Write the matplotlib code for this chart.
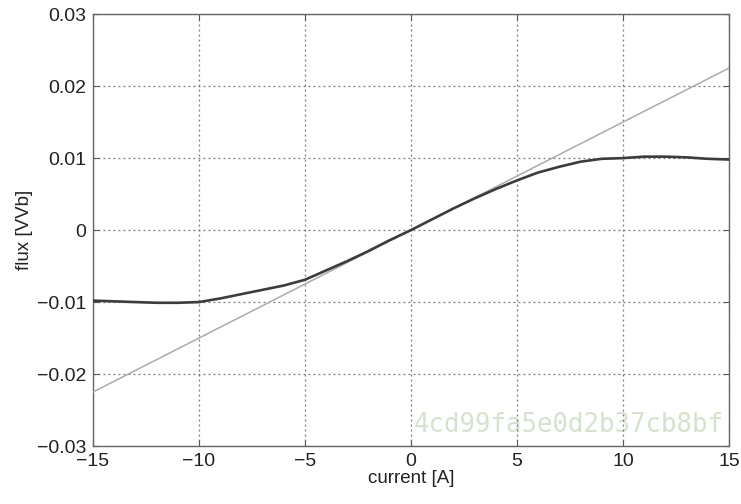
import matplotlib
matplotlib.use("Agg")
import matplotlib.pyplot as plt

# Data
current = [-15, -14, -13, -12, -11, -10, -9, -8, -7, -6, -5, -4, -3, -2, -1,
           0, 1, 2, 3, 4, 5, 6, 7, 8, 9, 10, 11, 12, 13, 14, 15]
flux = [-0.0098, -0.0099, -0.0100, -0.0101, -0.0101, -0.0100, -0.0095, -0.0089,
        -0.0083, -0.0077, -0.0069, -0.0056, -0.0043, -0.0029, -0.0014,
        0.0, 0.0015, 0.0030, 0.0044, 0.0057, 0.0069, 0.0080, 0.0088, 0.0095,
        0.0099, 0.0100, 0.0102, 0.0102, 0.0101, 0.0099, 0.0098]
linear_x = [-15, 15]
linear_y = [-0.0225, 0.0225]

xticks = [-15, -10, -5, 0, 5, 10, 15]
yticks = [-0.03, -0.02, -0.01, 0, 0.01, 0.02, 0.03]
yticklabels = ["\u22120.03", "\u22120.02", "\u22120.01", "0", "0.01", "0.02", "0.03"]
xticklabels = ["\u221215", "\u221210", "\u22125", "0", "5", "10", "15"]

plt.rcParams['font.family'] = ['Liberation Sans', 'DejaVu Sans']

fig = plt.figure(figsize=(7.41, 5.04), dpi=100)
ax = fig.add_axes([0.1255, 0.115, 0.8583, 0.857])

ax.plot(linear_x, linear_y, color="#ababab", lw=1.1, zorder=3)
ax.plot(current, flux, color="#3c3c3c", lw=1.9, zorder=4)

ax.set_xlim(-15, 15)
ax.set_ylim(-0.03, 0.03)
ax.set_xticks(xticks)
ax.set_xticklabels(xticklabels)
ax.set_yticks(yticks)
ax.set_yticklabels(yticklabels)
ax.grid(True, linestyle=(0, (1.5, 2.5)), color="#777777", lw=0.9)
ax.tick_params(direction="in", length=4, width=0.8, colors="#555555",
               labelcolor="#222222", labelsize=14, top=True, right=True, pad=5)
for s in ax.spines.values():
    s.set_color("#666666")
    s.set_linewidth(1.0)

ax.set_xlabel("current [A]", fontsize=13.5, color="#222222", labelpad=0)
ax.set_ylabel("flux [VVb]", fontsize=13.5, color="#222222", labelpad=3)

ax.text(0.558, 0.157, "4cd99fa5e0d2b37cb8bf", transform=fig.transFigure,
        fontsize=18.5, family="DejaVu Sans Mono", color="#d5e2cc",
        ha="left", va="center", zorder=1, clip_on=False)

fig.savefig("out.png", dpi=100)
